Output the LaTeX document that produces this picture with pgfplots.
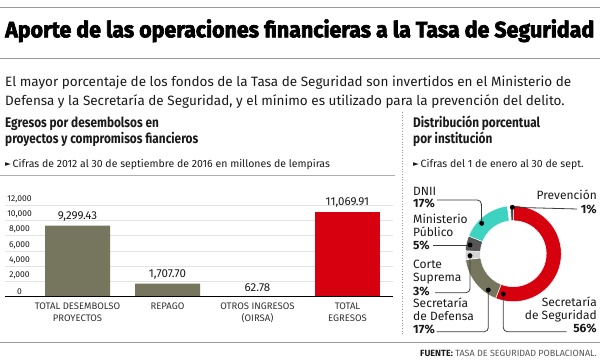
\documentclass[border=0pt]{standalone}
\usepackage{pgfplots}
\pgfplotsset{compat=1.18}
\usepackage{fontspec}
\setmainfont{Fira Sans}
\newfontfamily\cond{Fira Sans}[FakeStretch=0.85]
\newfontfamily\heavy{Fira Sans}[BoldFeatures={FakeBold=3}]
\newfontfamily\dejavu{DejaVu Sans}
\definecolor{barolive}{HTML}{76765F}
\definecolor{barred}{HTML}{D6000F}
\definecolor{teal2}{HTML}{3ED3C0}
\definecolor{dgrey}{HTML}{555555}
\definecolor{lgrey}{HTML}{D2D2D2}
\definecolor{txt}{HTML}{1A1A1A}
\definecolor{rule}{HTML}{9A9A9A}
\newcommand{\fs}[1]{\fontsize{#1}{#1}\selectfont}
\newcommand{\tri}{{\dejavu\fontsize{7.5}{7.5}\selectfont\raisebox{0.6pt}{►}}}
\newcommand{\seg}[3]{\fill[#3,draw=white,line width=0.5pt] (axis cs:{48*cos(#1)},{48*sin(#1)}) arc[start angle=#1,end angle=#2,radius=48pt] -- (axis cs:{33*cos(#2)},{33*sin(#2)}) arc[start angle=#2,end angle=#1,radius=33pt] -- cycle;}
\begin{document}
\begin{tikzpicture}[x=1pt,y=1pt]
\path[use as bounding box, fill=white] (0,0) rectangle (600,361);
% rules
\draw[rule, line width=1.3pt] (0,353.5) -- (600,353.5);
\draw[rule, line width=1.3pt] (0,302.7) -- (600,302.7);
\draw[rule!80, line width=0.8pt] (0,186) -- (395,186);
\draw[rule, line width=1pt] (0,18.3) -- (600,18.3);
\draw[rule, line width=0.7pt, dotted] (402,249) -- (402,26);
% title
\node[anchor=base west, inner sep=0pt, text=black] at (5,323.7) {\resizebox{589pt}{18pt}{\heavy\bfseries Aporte de las operaciones financieras a la Tasa de Seguridad}};
% body
\node[anchor=base west, inner sep=0pt, text=txt, font=\fs{13.5}] at (5,274) {El mayor porcentaje de los fondos de la Tasa de Seguridad son invertidos en el Ministerio de};
\node[anchor=base west, inner sep=0pt, text=txt, font=\fs{13.5}] at (5,255) {Defensa y la Secretaría de Seguridad, y el mínimo es utilizado para la prevención del delito.};
% left subtitle
\node[anchor=base west, inner sep=0pt, text=txt, font=\cond\fs{13.9}\bfseries] at (5,233.7) {Egresos por desembolsos en};
\node[anchor=base west, inner sep=0pt, text=txt, font=\cond\fs{13.9}\bfseries] at (5,217.7) {proyectos y compromisos fiancieros};
\node[anchor=base west, inner sep=0pt, text=txt, font=\fs{10.5}] at (5,193.7) {\tri\,Cifras de 2012 al 30 de septiembre de 2016 en millones de lempiras};
% right subtitle
\node[anchor=base west, inner sep=0pt, text=txt, font=\cond\fs{13.9}\bfseries] at (413,233.7) {Distribución porcentual};
\node[anchor=base west, inner sep=0pt, text=txt, font=\cond\fs{13.9}\bfseries] at (413,217.7) {por institución};
\node[anchor=base west, inner sep=0pt, text=txt, font=\fs{10.5}] at (413,193.7) {\tri\,Cifras del 1 de enero al 30 de sept.};
% source
\node[anchor=base east, inner sep=0pt, font=\fs{9}, text=dgrey] at (597,4.5) {{\bfseries\color{txt}FUENTE:} TASA DE SEGURIDAD POBLACIONAL.};

% bar chart
\begin{axis}[
  at={(5pt,64.3pt)}, anchor=south west,
  scale only axis, width=388pt, height=91.7pt,
  xmin=-0.806, xmax=3.506, ymin=0, ymax=12000,
  axis line style={draw=none},
  major tick length=0pt,
  ymajorgrids, grid style={gray!22, line width=0.6pt},
  ytick={0,2000,4000,6000,8000,10000,12000},
  scaled y ticks=false,
  yticklabel style={font=\fs{8.5}, text=txt, anchor=south, inner sep=0pt, xshift=14.5pt, yshift=2pt,
    /pgf/number format/.cd, fixed, 1000 sep={,}, assume math mode=true},
  xtick={0,1,2,3},
  xticklabels={{TOTAL DESEMBOLSO\\PROYECTOS},{REPAGO},{OTROS INGRESOS\\(OIRSA)},{TOTAL\\EGRESOS}},
  xticklabel style={align=center, font=\fs{9.5}\linespread{1.3}\selectfont, text=txt!90, inner sep=0pt, yshift=-6pt},
  clip=false,
  nodes near coords={\pgfmathprintnumber[fixed,fixed zerofill,precision=2,1000 sep={,},assume math mode=true]{\pgfplotspointmeta}},
  every node near coord/.append style={font=\fs{11.5}, text=txt, inner sep=0pt, yshift=4.5pt},
]
\addplot[ybar, fill=barolive, draw=none, bar width=65pt, bar shift=0pt] coordinates {(0,9299.43) (1,1707.70) (2,62.78)};
\addplot[ybar, fill=barred, draw=none, bar width=65pt, bar shift=0pt] coordinates {(3,11069.91)};
\draw[black, line width=1.3pt] (axis cs:-0.806,0) -- (axis cs:3.506,0);
\end{axis}

% donut
\begin{axis}[
  at={(465.3pt,59.3pt)}, anchor=south west,
  scale only axis, width=96pt, height=96pt,
  xmin=-48, xmax=48, ymin=-48, ymax=48,
  hide axis, clip=false,
]
\seg{93.6}{90}{txt!80}
\seg{90}{-111.6}{barred}
\seg{-111.6}{-172.8}{barolive}
\seg{-172.8}{-183.6}{lgrey}
\seg{-183.6}{-201.6}{dgrey}
\seg{-201.6}{-262.8}{teal2}
% leader lines
\draw[txt!85, line width=0.8pt, rounded corners=4pt] (axis cs:-1,46.4) -- (axis cs:63.7,44.7);
\draw[txt!85, line width=0.8pt, rounded corners=4pt] (axis cs:-76.3,53.7) -- (axis cs:-32,53.7) -- (axis cs:-31.6,30.4);
\draw[txt!85, line width=0.8pt] (axis cs:-80.3,8.7) -- (axis cs:-43.3,8.7);
\draw[txt!85, line width=0.8pt, rounded corners=4pt] (axis cs:-78.3,-39) -- (axis cs:-43.3,-39) -- (axis cs:-43.3,-2);
\draw[txt!85, line width=0.8pt, rounded corners=4pt] (axis cs:-76.6,-78) -- (axis cs:-25,-78) -- (axis cs:-25,-36.3);
\draw[txt!85, line width=0.8pt, rounded corners=4pt] (axis cs:-10,-40.3) -- (axis cs:-10,-78) -- (axis cs:53.4,-78);
\addplot[only marks, mark=*, mark size=2.2pt, black] coordinates {(-1,46.4) (-31.6,30.4) (-43.3,8.7) (-43.3,-2) (-25,-36.3) (-10,-40.3)};
\end{axis}

% donut labels
\tikzset{lab/.style={inner sep=0pt, text=txt, font=\fs{12}}}
\node[lab, anchor=base west] at (413,165.5) {DNII};
\node[lab, anchor=base west, font=\fs{12}\bfseries] at (413,153) {17\%};
\node[lab, anchor=base east] at (597,161) {Prevención};
\node[lab, anchor=base east, font=\fs{12}\bfseries] at (597,147) {1\%};
\node[lab, anchor=base west] at (413,137) {Ministerio};
\node[lab, anchor=base west] at (413,124.3) {Público};
\node[lab, anchor=base west, font=\fs{12}\bfseries] at (413,111) {5\%};
\node[lab, anchor=base west] at (413,92) {Corte};
\node[lab, anchor=base west] at (413,79) {Suprema};
\node[lab, anchor=base west, font=\fs{12}\bfseries] at (413,65) {3\%};
\node[lab, anchor=base west] at (413,53.5) {Secretaría};
\node[lab, anchor=base west] at (413,40.5) {de Defensa};
\node[lab, anchor=base west, font=\fs{12}\bfseries] at (413,27.5) {17\%};
\node[lab, anchor=base east] at (597,54) {Secretaría};
\node[lab, anchor=base east] at (597,41) {de Seguridad};
\node[lab, anchor=base east, font=\fs{12}\bfseries] at (597,28) {56\%};
\end{tikzpicture}
\end{document}
